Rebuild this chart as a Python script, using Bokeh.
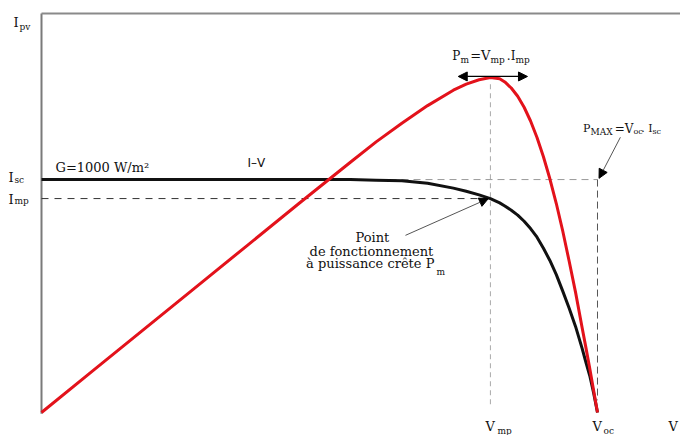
from bokeh.plotting import figure
from bokeh.models import Range1d, Label, Arrow, NormalHead
from bokeh.embed import file_html
from bokeh.resources import INLINE

# ---- data (schematic PV module characteristic) ----
V_iv = [0, 2, 4, 6, 8, 10, 12, 13, 14, 15, 16, 16.5, 17, 17.44, 17.8, 18, 18.25, 18.5, 18.75, 19,
        19.25, 19.5, 19.75, 20, 20.25, 20.5, 20.75, 21, 21.15, 21.3, 21.45, 21.6]
I_iv = [3.80, 3.80, 3.80, 3.80, 3.80, 3.80, 3.80, 3.79, 3.78, 3.74, 3.66, 3.61, 3.55, 3.49, 3.42, 3.37,
        3.30, 3.22, 3.12, 3.00, 2.86, 2.68, 2.48, 2.25, 1.98, 1.70, 1.40, 1.05, 0.82, 0.60, 0.32, 0.0]
V_pv = [0, 2, 4, 6, 8, 10, 12, 13, 14, 15, 16, 16.5, 17, 17.44, 17.8, 18, 18.25, 18.5, 18.75, 19,
        19.25, 19.5, 19.75, 20, 20.25, 20.5, 20.75, 21, 21.15, 21.3, 21.45, 21.6]
P_pv = [0, 7.6, 15.2, 22.8, 30.4, 38.0, 45.5, 49.2, 52.6, 55.8, 58.6, 59.7, 60.5, 60.9, 60.7, 60.1,
        59.0, 57.5, 55.5, 53.0, 50.0, 46.5, 42.5, 38.0, 33.0, 27.5, 21.8, 15.5, 11.8, 8.0, 4.0, 0.0]

Isc = 3.80
Imp = 3.49
Vmp = 17.44
Voc = 21.6
Pmax = 60.9
I_top = 6.51
V_end = 24.825

SERIF = "DejaVu Serif"

p = figure(width=680, height=435, output_backend="svg", toolbar_location=None,
           x_range=Range1d(-1.593, V_end), y_range=Range1d(-0.375, 6.721),
           x_axis_location=None, y_axis_location=None, min_border=0,
           outline_line_color=None, background_fill_color="white")
p.extra_y_ranges = {"power": Range1d(-4.18, 74.91)}
p.grid.visible = False

# axis frame lines (left and top)
p.segment(x0=[0], y0=[-0.02], x1=[0], y1=[I_top], line_color="#7a7a7a", line_width=2)
p.segment(x0=[0], y0=[I_top], x1=[V_end], y1=[I_top], line_color="#8a8a8a", line_width=2)

# guide lines
p.segment(x0=[0], y0=[Isc], x1=[Voc], y1=[Isc], line_color="#999999", line_width=1, line_dash="7 5")
p.segment(x0=[0], y0=[Imp], x1=[Vmp], y1=[Imp], line_color="#333333", line_width=1, line_dash="7 6")
p.segment(x0=[Voc], y0=[Isc], x1=[Voc], y1=[0.2], line_color="#555555", line_width=1, line_dash="7 4")
p.segment(x0=[Vmp], y0=[1.5], x1=[Vmp], y1=[Pmax - 1], line_color="#aaaaaa", line_width=1,
          line_dash="5 4", y_range_name="power")

# curves
p.line(V_iv, I_iv, line_color="#111111", line_width=3, line_join="round")
p.line(V_pv, P_pv, line_color="#e3121b", line_width=3, line_join="round", y_range_name="power")

# arrows
p.add_layout(Arrow(start=NormalHead(size=9, fill_color="black", line_color="black"),
                   end=NormalHead(size=9, fill_color="black", line_color="black"),
                   x_start=Vmp - 1.25, y_start=Pmax + 0.2, x_end=Vmp + 1.44, y_end=Pmax + 0.2,
                   line_color="black", line_width=1.2, y_range_name="power"))
p.add_layout(Arrow(end=NormalHead(size=9, fill_color="black", line_color="black"),
                   x_start=Vmp - 3.3, y_start=Imp - 0.6, x_end=Vmp - 0.08, y_end=Imp,
                   line_color="#555555", line_width=1))
p.add_layout(Arrow(end=NormalHead(size=9, fill_color="black", line_color="black"),
                   x_start=Voc + 0.89, y_start=Isc + 0.69, x_end=Voc + 0.06, y_end=Isc + 0.02,
                   line_color="#555555", line_width=1))


def lab(text, x, y, dx, dy, size=13, align="left", font=SERIF, rng="default", color="#111111"):
    p.add_layout(Label(text=text, x=x, y=y, x_offset=dx, y_offset=-dy,
                       text_font=font, text_font_size=f"{size}px", text_align=align,
                       text_baseline="alphabetic", text_color=color, y_range_name=rng))


# axis names
lab("I", 0, I_top, -28, 9)
lab("pv", 0, I_top, -22, 14, size=9)
lab("I", 0, Isc, -33, -2)
lab("sc", 0, Isc, -27, 0, size=9)
lab("I", 0, Imp, -33, 1)
lab("mp", 0, Imp, -27, 2, size=9)
lab("V", Vmp, 0, -5, 14)
lab("mp", Vmp, 0, 7, 18, size=9)
lab("V", Voc, 0, -5, 14)
lab("oc", Voc, 0, 6, 18, size=9)
lab("V", Voc, 0, 71, 14)

# annotations
lab("G=1000 W/m²", 0, Isc, 14, -12)
lab("I–V", 0, Isc, 206, -17, size=12, font="DejaVu Sans")

lab("P", Vmp, Pmax, -30, -22, size=12, rng="power", align="right")
lab("m", Vmp, Pmax, -30, -18, size=9, rng="power")
lab("=V", Vmp, Pmax, 0, -22, size=13, rng="power", align="right")
lab("mp", Vmp, Pmax, 0, -18, size=9, rng="power")
lab(".I", Vmp, Pmax, 25, -22, size=12, rng="power", align="right")
lab("mp", Vmp, Pmax, 25, -18, size=9, rng="power")

lab("P", Voc, Isc, -7, -51, size=11, align="right")
lab("MAX", Voc, Isc, -7, -48, size=9)
lab("=V", Voc, Isc, 36, -51, size=12, align="right")
lab("oc", Voc, Isc, 36, -48, size=8)
lab(". I", Voc, Isc, 55, -51, size=11, align="right")
lab("sc", Voc, Isc, 55, -48, size=8)

lab("Point", Vmp, Imp, -118, 39, align="center")
lab("de fonctionnement", Vmp, Imp, -119, 53, align="center")
lab("à puissance crête P", Vmp, Imp, -56, 65, align="right")
lab("m", Vmp, Imp, -54, 73, size=9)

open("out.html", "w").write(file_html(p, INLINE))
